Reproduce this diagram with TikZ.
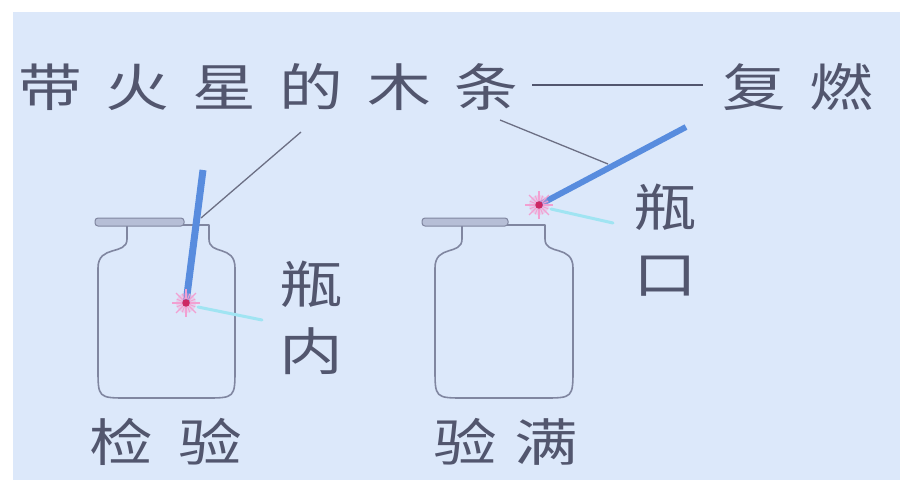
\documentclass[tikz,border=0pt]{standalone}
\usepackage{fontspec}
\newfontfamily\cjk[FakeStretch=1.25]{Noto Sans CJK SC}
\usetikzlibrary{calc}

\definecolor{bg}{RGB}{220,232,250}
\definecolor{ink}{RGB}{82,86,110}
\definecolor{jarline}{RGB}{128,134,160}
\definecolor{capfill}{RGB}{182,190,214}
\definecolor{stick}{RGB}{88,140,222}
\definecolor{glow}{RGB}{160,228,242}
\definecolor{spark}{RGB}{205,40,100}
\definecolor{sparkray}{RGB}{242,160,210}

% gap between the wide-set characters
\newcommand\cgap{\hspace{23.5pt}}

% gas jar outline: neck left, neck right, body left, body right
\newcommand\jarbody[4]{%
  \draw[jar] (#1,225) -- (#1,239) .. controls (#1,256) and (#3,244) .. (#3,268)
    -- (#3,368) .. controls (#3,398) .. ({#3+30},398) -- ({#4-30},398)
    .. controls (#4,398) .. (#4,368) -- (#4,268)
    .. controls (#4,244) and (#2,256) .. (#2,239) -- (#2,225) -- cycle;}

% glowing tip of the splint
\newcommand\glowtip[1]{%
  \fill[sparkray, opacity=0.35] (#1) circle (10pt);
  \foreach \a in {0,45,...,315}
    \draw[sparkray, line width=1.2pt] (#1) ++(\a:4pt) -- ++(\a:10pt);
  \foreach \a in {22.5,67.5,...,337.5}
    \draw[sparkray, line width=0.9pt] (#1) ++(\a:4pt) -- ++(\a:6pt);
  \fill[spark] (#1) circle (3.8pt);}

\begin{document}
\begin{tikzpicture}[x=1pt,y=-1pt,
  txt/.style={inner sep=0pt, text=ink, font=\cjk\fontsize{51}{67}\selectfont},
  jar/.style={draw=jarline, line width=1.6pt, line join=round},
  lid/.style={draw=jarline, fill=capfill, line width=1pt, rounded corners=3pt},
  splint/.style={draw=stick, line width=7pt},
  leader/.style={draw=ink!85, line width=1.3pt},
  glowline/.style={draw=glow, line width=3pt, line cap=round},
]
\useasboundingbox (0,0) rectangle (900,480);
\fill[white] (0,0) rectangle (900,480);
\fill[bg] (13,12) rectangle (900,480);

% jars
\jarbody{127}{209}{98}{235}
\jarbody{462}{545}{435}{573}

% glass lids, pushed aside
\draw[lid] (95,218) rectangle (184,226);
\draw[lid] (422,218) rectangle (508,226);

% splints
\coordinate (s1top) at (203,170);
\coordinate (s1tip) at (186,303);
\coordinate (s2top) at (686,127);
\coordinate (s2tip) at (539,205);
\draw[splint] (s1top) -- (s1tip);
\draw[splint, line width=6pt] (s2top) -- (s2tip);

% titles
\node[txt, anchor=west] (head) at (18,87) {带\cgap 火\cgap 星\cgap 的\cgap 木\cgap 条};
\node[txt, anchor=west] (result) at (722.5,87) {复\cgap 燃};
\draw[ink, line width=2pt] ([xshift=14pt,yshift=2pt]head.east) -- ([xshift=-20pt,yshift=2pt]result.west);

% leaders from the title to the splints
\coordinate (l1a) at (301,132);
\coordinate (l1b) at (201,218);
\coordinate (l2a) at (500,120);
\coordinate (l2b) at (608,164);
\draw[leader] (l1a) -- (l1b);
\draw[leader] (l2a) -- (l2b);

% position labels
\node[txt, align=center] (inside) at (311,318) {瓶\\内};
\node[txt, align=center] (mouth) at (665,240) {瓶\\口};
\node[txt] (check) at (166,442) {检\hspace{26pt}验};
\node[txt] (full) at (506,442) {验\hspace{18pt}满};

% light pointers to the labels
\draw[glowline] (s1tip) ++(12pt,-4pt) -- (262,320);
\draw[glowline] (s2tip) ++(12pt,-4pt) -- (613,223);

% glowing tips
\glowtip{s1tip}
\glowtip{s2tip}
\end{tikzpicture}
\end{document}
